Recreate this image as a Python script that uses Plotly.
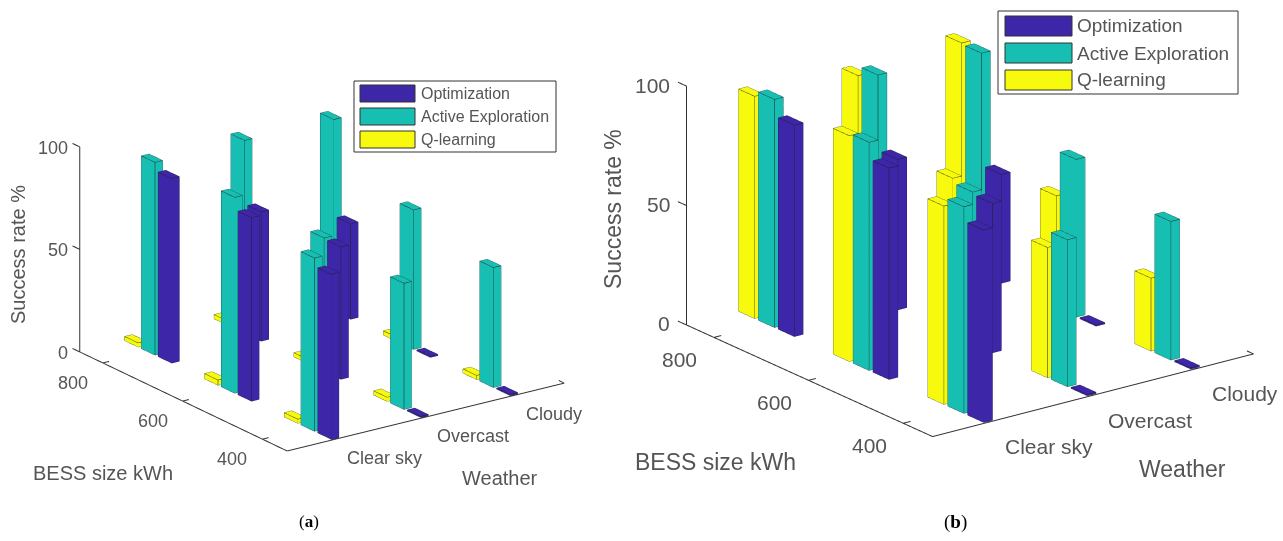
import plotly.graph_objects as go

weather = ["Clear sky", "Overcast", "Cloudy"]
bess = ["400", "600", "800"]
series = ["Optimization", "Active Exploration", "Q-learning"]
colors = {"Optimization": "#3d26a8", "Active Exploration": "#17bfb2", "Q-learning": "#f8fa0e"}
z_ticks = [0, 50, 100]

# rows: BESS 400, 600, 800 ; columns: Clear sky, Overcast, Cloudy
a_opt = [[80.5, 0.5, 0.5], [89.5, 64.5, 0.5], [90, 63, 46.5]]
a_ae = [[84.5, 61.5, 58.5], [95.5, 65, 68], [94, 94, 93.5]]
a_q = [[2, 2, 2], [2.5, 2, 2], [2, 2, 2]]

b_opt = [[80.5, 0.5, 0.5], [88.5, 62.5, 0.5], [88.5, 63, 45.5]]
b_ae = [[86.5, 61.5, 58], [95.5, 63.5, 66], [95.5, 94.5, 92.5]]
b_q = [[83, 54.5, 30.5], [94.5, 65.5, 47], [93, 90.5, 93]]

XR = [0.45, 3.55]
YR = [0.69, 3.29]
ZR = [0, 100]
PAD_XY = 0.1
PAD_Z = 1.0
BW_Y = 0.17
BW_X = 0.085
STEP = 0.21


def box(cx, cy, h):
    x0, x1 = cx - BW_X / 2, cx + BW_X / 2
    y0, y1 = cy - BW_Y / 2, cy + BW_Y / 2
    return x0, x1, y0, y1, h


def add_bars(fig, scene, vals, col, offset):
    X, Y, Z, I, J, K = [], [], [], [], [], []
    ex, ey, ez = [], [], []
    for r, row in enumerate(vals):
        for c, h in enumerate(row):
            x0, x1, y0, y1, h = box(c + 1, r + 1 + offset, h)
            n = len(X)
            X += [x0, x1, x1, x0, x0, x1, x1, x0]
            Y += [y0, y0, y1, y1, y0, y0, y1, y1]
            Z += [0, 0, 0, 0, h, h, h, h]
            tri = [(0, 1, 2), (0, 2, 3), (4, 5, 6), (4, 6, 7), (0, 1, 5), (0, 5, 4),
                   (1, 2, 6), (1, 6, 5), (2, 3, 7), (2, 7, 6), (3, 0, 4), (3, 4, 7)]
            for a, b, d in tri:
                I.append(n + a); J.append(n + b); K.append(n + d)
            for a, b in [(0, 1), (1, 2), (2, 3), (3, 0), (4, 5), (5, 6), (6, 7), (7, 4),
                         (0, 4), (1, 5), (2, 6), (3, 7)]:
                ex += [X[n + a], X[n + b], None]
                ey += [Y[n + a], Y[n + b], None]
                ez += [Z[n + a], Z[n + b], None]
    fig.add_trace(go.Mesh3d(x=X, y=Y, z=Z, i=I, j=J, k=K, color=col, flatshading=True,
                            lighting=dict(ambient=1, diffuse=0, specular=0, fresnel=0),
                            hoverinfo="skip", scene=scene, showlegend=False))
    fig.add_trace(go.Scatter3d(x=ex, y=ey, z=ez, mode="lines", line=dict(color="#1c1c1c", width=1),
                               hoverinfo="skip", scene=scene, showlegend=False))


def add_axes(fig, scene):
    ex, ey, ez = [], [], []

    def seg(p, q):
        ex.extend([p[0], q[0], None]); ey.extend([p[1], q[1], None]); ez.extend([p[2], q[2], None])
    seg((XR[0], YR[1], 0), (XR[0], YR[0], 0))
    seg((XR[0], YR[0], 0), (XR[1], YR[0], 0))
    seg((XR[0], YR[1], 0), (XR[0], YR[1], 100))
    for i in range(3):
        seg((i + 1, YR[0], 0), (i + 1, YR[0] + 0.07, 0))
        seg((XR[0], i + 1, 0), (XR[0] + 0.07, i + 1, 0))
    seg((XR[1], YR[0], 0), (XR[1], YR[0] + 0.07, 0))
    for t in z_ticks:
        seg((XR[0], YR[1], t), (XR[0], YR[1] + 0.09, t))
    fig.add_trace(go.Scatter3d(x=ex, y=ey, z=ez, mode="lines", line=dict(color="#333333", width=2),
                               hoverinfo="skip", scene=scene, showlegend=False))


fig = go.Figure()
add_bars(fig, "scene", a_q, colors["Q-learning"], STEP)
add_bars(fig, "scene", a_ae, colors["Active Exploration"], 0)
add_bars(fig, "scene", a_opt, colors["Optimization"], -STEP)
add_axes(fig, "scene")
add_bars(fig, "scene2", b_q, colors["Q-learning"], STEP)
add_bars(fig, "scene2", b_ae, colors["Active Exploration"], 0)
add_bars(fig, "scene2", b_opt, colors["Optimization"], -STEP)
add_axes(fig, "scene2")

TXT = "#555555"
FONT = "Liberation Sans, Arial, sans-serif"


def scene_layout(dom, L, scale, theta_eye, R, tick_size, wsh, bsh, zsh):
    ax = dict(showgrid=False, showline=False, zeroline=False, showticklabels=False, ticks="",
              showbackground=False, showspikes=False, title=dict(text=""))
    anns = []
    for i, t in enumerate(weather):
        anns.append(dict(x=i + 1, y=YR[0], z=0, text=t, showarrow=False, xanchor="left",
                         xshift=wsh[0], yshift=wsh[1], font=dict(size=tick_size, color=TXT, family=FONT)))
    for i, t in enumerate(bess):
        anns.append(dict(x=XR[0], y=i + 1, z=0, text=t, showarrow=False, xanchor="center",
                         xshift=bsh[0], yshift=bsh[1], font=dict(size=tick_size, color=TXT, family=FONT)))
    for t in z_ticks:
        anns.append(dict(x=XR[0], y=YR[1], z=t, text=str(t), showarrow=False, xanchor="right",
                         xshift=zsh[0], yshift=zsh[1], font=dict(size=tick_size, color=TXT, family=FONT)))
    fx = (XR[1] - XR[0] + 2 * PAD_XY) / (XR[1] - XR[0])
    fy = (YR[1] - YR[0] + 2 * PAD_XY) / (YR[1] - YR[0])
    fz = (ZR[1] - ZR[0] + 2 * PAD_Z) / (ZR[1] - ZR[0])
    return dict(
        domain=dom,
        xaxis=dict(ax, range=[XR[0] - PAD_XY, XR[1] + PAD_XY]),
        yaxis=dict(ax, range=[YR[0] - PAD_XY, YR[1] + PAD_XY]),
        zaxis=dict(ax, range=[ZR[0] - PAD_Z, ZR[1] + PAD_Z]),
        aspectmode="manual",
        aspectratio=dict(x=L[0] * scale * fx, y=L[1] * scale * fy, z=L[2] * scale * fz),
        bgcolor="rgba(0,0,0,0)",
        camera=dict(projection=dict(type="orthographic"),
                    eye=dict(x=theta_eye[0] * R, y=theta_eye[1] * R, z=theta_eye[2] * R),
                    up=dict(x=0, y=0, z=1), center=dict(x=0, y=0, z=0)),
        annotations=anns,
    )


W, H = 1283, 541
fig.update_layout(
    width=W, height=H, autosize=False, margin=dict(l=0, r=0, t=0, b=0),
    paper_bgcolor="white", showlegend=False,
    scene=scene_layout(dict(x=[0, 644 / W], y=[11 / H, 1]), (340.6, 356, 218), 1.133 / 300,
                       (-0.547, -0.764, 0.342), 3.0, 18, (9, -19), (-30, -20), (-10, -1)),
    scene2=scene_layout(dict(x=[657 / W, 1], y=[101 / H, 1]), (400, 407, 253), 1.37 / 300,
                        (-0.566, -0.751, 0.342), 3.0, 21, (13, -25), (-34, -22), (-14, 1)),
)


def legend(x0, y0, x1, y1, sw_x0, sw_x1, sw_y, sw_h, txt_x, size):
    fig.add_shape(type="rect", xref="paper", yref="paper", x0=x0 / W, x1=x1 / W, y0=1 - y0 / H, y1=1 - y1 / H,
                  line=dict(color="#333333", width=1), fillcolor="white", layer="above")
    for name, yy in zip(series, sw_y):
        fig.add_shape(type="rect", xref="paper", yref="paper", x0=sw_x0 / W, x1=sw_x1 / W,
                      y0=1 - yy / H, y1=1 - (yy + sw_h) / H, line=dict(color="#333333", width=1),
                      fillcolor=colors[name], layer="above")
        fig.add_annotation(xref="paper", yref="paper", x=txt_x / W, y=1 - (yy + sw_h / 2) / H, text=name,
                           showarrow=False, xanchor="left", yanchor="middle",
                           font=dict(size=size, color=TXT, family=FONT))


legend(354, 81, 556, 152, 360, 415, [85, 108, 131], 17, 419, 16)
legend(998, 11, 1238, 94, 1005, 1072, [16, 43, 70], 20, 1075, 19)


def label(x, y, text, size, angle=0, color=TXT, family=FONT):
    fig.add_annotation(xref="paper", yref="paper", x=x / W, y=1 - y / H, text=text, showarrow=False,
                       xanchor="center", yanchor="middle", textangle=angle,
                       font=dict(size=size, color=color, family=family))


label(103, 473, "BESS size kWh", 20)
label(500, 478, "Weather", 20)
label(18, 255, "Success rate %", 20, -90)
label(309, 521, "(<b>a</b>)", 17, color="#000000", family="Liberation Serif, serif")
label(715, 462, "BESS size kWh", 23)
label(1182, 469, "Weather", 23)
label(613, 209, "Success rate %", 23, -90)
label(955, 522, "(<b>b</b>)", 19, color="#000000", family="Liberation Serif, serif")

fig.write_html("out.html", config=dict(displayModeBar=False),
               post_script="document.body.style.margin='0';")
